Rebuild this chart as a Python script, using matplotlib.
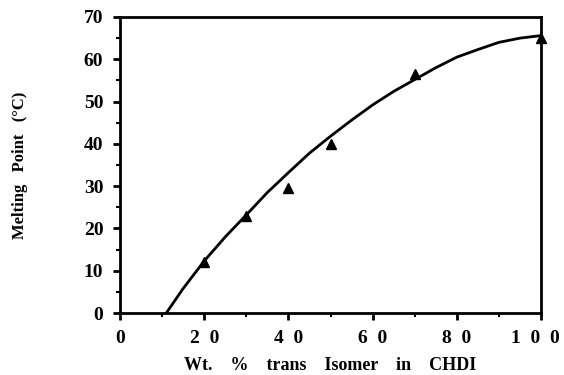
import matplotlib
matplotlib.use("Agg")
import matplotlib.pyplot as plt
import matplotlib.transforms as mtransforms
import numpy as np
from matplotlib.ticker import MultipleLocator

# measured points (triangles)
pts_x = [20, 30, 40, 50, 70, 100]
pts_y = [12, 23, 29.5, 40, 56.5, 65]

# smooth fitted curve
curve_x = [11, 15, 20, 25, 30, 35, 40, 45, 50, 55, 60, 65, 70, 75, 80, 85, 90, 95, 100]
curve_y = [0, 5.8, 12.3, 18, 23.2, 28.5, 33.2, 37.8, 41.8, 45.6, 49.2, 52.4, 55.2, 58, 60.5, 62.3, 64.0, 65.0, 65.6]

x_ticks = [0, 20, 40, 60, 80, 100]
x_tick_labels = ["0", "2  0", "4  0", "6  0", "8  0", "1  0  0"]
y_ticks = [0, 10, 20, 30, 40, 50, 60, 70]

plt.rcParams["font.family"] = ["Liberation Serif", "DejaVu Serif"]
plt.rcParams["font.weight"] = "bold"

fig = plt.figure(figsize=(5.64, 3.75), dpi=100)
ax = fig.add_axes([0.2128, 0.1653, 0.7464, 0.7894])

ax.plot(curve_x, curve_y, color="black", lw=2.0)
ax.plot(pts_x, pts_y, ls="none", marker="^", color="black", ms=7, clip_on=False)

ax.set_xlim(0, 100)
ax.set_ylim(0, 70)
ax.set_xticks(x_ticks)
ax.set_xticklabels(x_tick_labels)
ax.set_yticks(y_ticks)
ax.xaxis.set_minor_locator(MultipleLocator(10))
ax.yaxis.set_minor_locator(MultipleLocator(5))
ax.tick_params(which="major", direction="out", length=5, width=2, labelsize=14, pad=7)
ax.tick_params(which="minor", direction="out", length=3, width=1.5)
for lbl in ax.get_xticklabels() + ax.get_yticklabels():
    lbl.set_fontweight("bold")
# last label sits a bit left of its tick in the original
last = ax.get_xticklabels()[-1]
last.set_transform(last.get_transform() + mtransforms.ScaledTranslation(-6 / 100, 0, fig.dpi_scale_trans))
for sp in ax.spines.values():
    sp.set_linewidth(2)

ax.set_xlabel("Wt.    %    trans    Isomer    in    CHDI", fontsize=13, fontweight="bold")
ax.set_ylabel("Melting   Point   (°C)", fontsize=12, fontweight="bold")
ax.xaxis.set_label_coords(0.5, -0.148)
ax.yaxis.set_label_coords(-0.218, 0.5)

fig.savefig("out.png", dpi=100)
